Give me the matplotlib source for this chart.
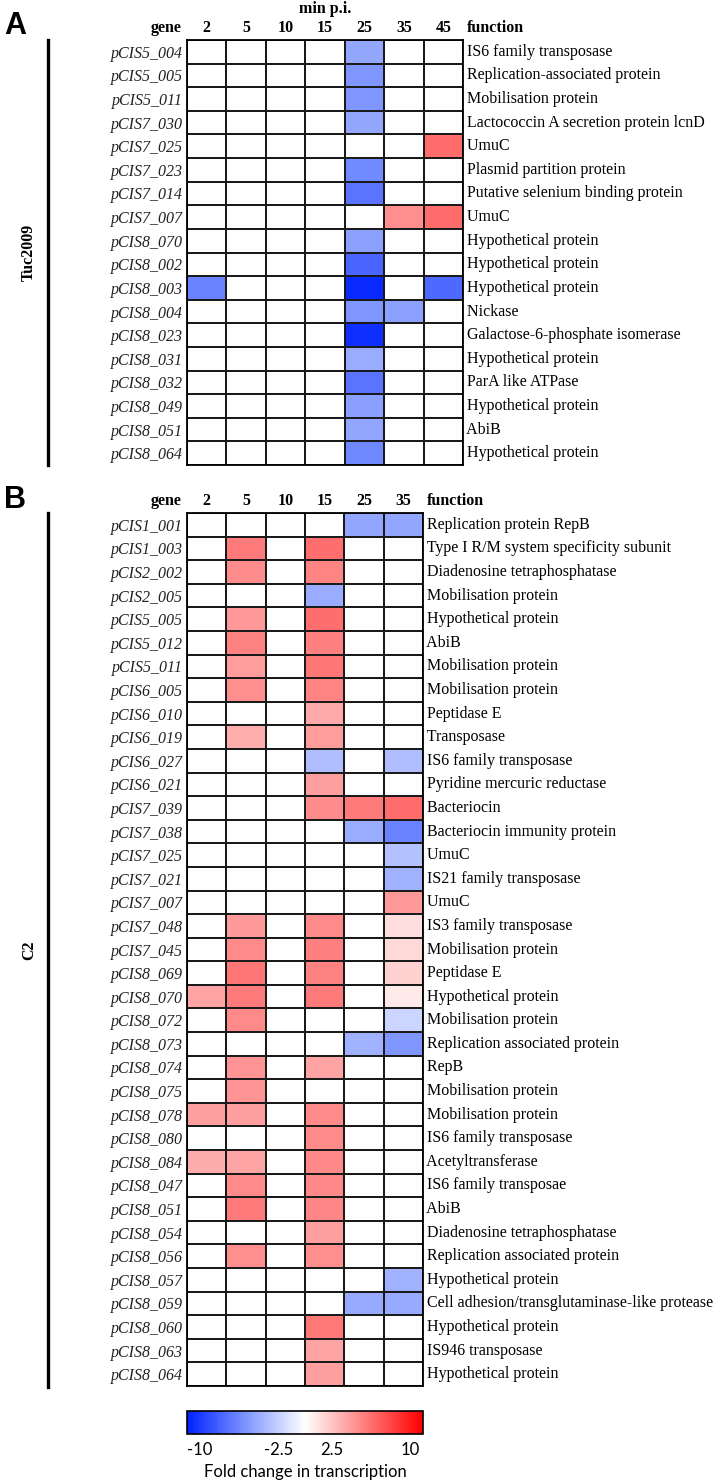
import numpy as np
import matplotlib
matplotlib.use('Agg')
import matplotlib.pyplot as plt
from matplotlib.colors import LinearSegmentedColormap, Normalize
from matplotlib.lines import Line2D
from matplotlib.transforms import blended_transform_factory

plt.rcParams['font.family'] = ['Liberation Serif', 'DejaVu Serif']

# panel A - Tuc2009
times_a = ['2', '5', '10', '15', '25', '35', '45']
genes_a = ['pCIS5_004', 'pCIS5_005', 'pCIS5_011', 'pCIS7_030', 'pCIS7_025', 'pCIS7_023',
           'pCIS7_014', 'pCIS7_007', 'pCIS8_070', 'pCIS8_002', 'pCIS8_003', 'pCIS8_004',
           'pCIS8_023', 'pCIS8_031', 'pCIS8_032', 'pCIS8_049', 'pCIS8_051', 'pCIS8_064']
funcs_a = ['IS6 family transposase', 'Replication-associated protein', 'Mobilisation protein',
           'Lactococcin A secretion protein lcnD', 'UmuC', 'Plasmid partition protein',
           'Putative selenium binding protein', 'UmuC', 'Hypothetical protein',
           'Hypothetical protein', 'Hypothetical protein', 'Nickase',
           'Galactose-6-phosphate isomerase', 'Hypothetical protein', 'ParA like ATPase',
           'Hypothetical protein', 'AbiB', 'Hypothetical protein']
fc_a = [
    [0, 0, 0, 0, -4.7, 0, 0],
    [0, 0, 0, 0, -5.6, 0, 0],
    [0, 0, 0, 0, -5.6, 0, 0],
    [0, 0, 0, 0, -4.7, 0, 0],
    [0, 0, 0, 0, 0, 0, 6.4],
    [0, 0, 0, 0, -6.2, 0, 0],
    [0, 0, 0, 0, -7.2, 0, 0],
    [0, 0, 0, 0, 0, 4.9, 6.4],
    [0, 0, 0, 0, -5.0, 0, 0],
    [0, 0, 0, 0, -7.9, 0, 0],
    [-6.5, 0, 0, 0, -10.8, 0, -7.7],
    [0, 0, 0, 0, -5.6, -5.0, 0],
    [0, 0, 0, 0, -10.5, 0, 0],
    [0, 0, 0, 0, -4.4, 0, 0],
    [0, 0, 0, 0, -7.2, 0, 0],
    [0, 0, 0, 0, -5.1, 0, 0],
    [0, 0, 0, 0, -4.8, 0, 0],
    [0, 0, 0, 0, -6.3, 0, 0],
]

# panel B - C2
times_b = ['2', '5', '10', '15', '25', '35']
genes_b = ['pCIS1_001', 'pCIS1_003', 'pCIS2_002', 'pCIS2_005', 'pCIS5_005', 'pCIS5_012',
           'pCIS5_011', 'pCIS6_005', 'pCIS6_010', 'pCIS6_019', 'pCIS6_027', 'pCIS6_021',
           'pCIS7_039', 'pCIS7_038', 'pCIS7_025', 'pCIS7_021', 'pCIS7_007', 'pCIS7_048',
           'pCIS7_045', 'pCIS8_069', 'pCIS8_070', 'pCIS8_072', 'pCIS8_073', 'pCIS8_074',
           'pCIS8_075', 'pCIS8_078', 'pCIS8_080', 'pCIS8_084', 'pCIS8_047', 'pCIS8_051',
           'pCIS8_054', 'pCIS8_056', 'pCIS8_057', 'pCIS8_059', 'pCIS8_060', 'pCIS8_063',
           'pCIS8_064']
funcs_b = ['Replication protein RepB', 'Type I R/M system specificity subunit',
           'Diadenosine tetraphosphatase', 'Mobilisation protein', 'Hypothetical protein',
           'AbiB', 'Mobilisation protein', 'Mobilisation protein', 'Peptidase E',
           'Transposase', 'IS6 family transposase', 'Pyridine mercuric reductase',
           'Bacteriocin', 'Bacteriocin immunity protein', 'UmuC', 'IS21 family transposase',
           'UmuC', 'IS3 family transposase', 'Mobilisation protein', 'Peptidase E',
           'Hypothetical protein', 'Mobilisation protein', 'Replication associated protein',
           'RepB', 'Mobilisation protein', 'Mobilisation protein', 'IS6 family transposase',
           'Acetyltransferase', 'IS6 family transposae', 'AbiB',
           'Diadenosine tetraphosphatase', 'Replication associated protein',
           'Hypothetical protein', 'Cell adhesion/transglutaminase-like protease',
           'Hypothetical protein', 'IS946 transposase', 'Hypothetical protein']
fc_b = [
    [0, 0, 0, 0, -4.8, -4.8],
    [0, 5.8, 0, 6.3, 0, 0],
    [0, 5.0, 0, 5.4, 0, 0],
    [0, 0, 0, -4.4, 0, 0],
    [0, 4.5, 0, 6.3, 0, 0],
    [0, 5.5, 0, 5.6, 0, 0],
    [0, 4.3, 0, 6.0, 0, 0],
    [0, 4.9, 0, 5.4, 0, 0],
    [0, 0, 0, 3.7, 0, 0],
    [0, 3.5, 0, 4.3, 0, 0],
    [0, 0, 0, -3.5, 0, -3.5],
    [0, 0, 0, 4.2, 0, 0],
    [0, 0, 0, 5.0, 5.8, 6.4],
    [0, 0, 0, 0, -4.4, -6.5],
    [0, 0, 0, 0, 0, -3.3],
    [0, 0, 0, 0, 0, -4.2],
    [0, 0, 0, 0, 0, 4.5],
    [0, 4.4, 0, 5.1, 0, 1.4],
    [0, 5.1, 0, 5.6, 0, 1.7],
    [0, 6.0, 0, 5.5, 0, 2.0],
    [4.0, 5.8, 0, 5.8, 0, 0.9],
    [0, 5.1, 0, 0, 0, -2.2],
    [0, 0, 0, 0, -4.2, -5.6],
    [0, 4.7, 0, 4.0, 0, 0],
    [0, 4.7, 0, 0, 0, 0],
    [4.2, 4.2, 0, 5.1, 0, 0],
    [0, 0, 0, 5.1, 0, 0],
    [3.6, 4.0, 0, 5.2, 0, 0],
    [0, 5.1, 0, 5.2, 0, 0],
    [0, 5.8, 0, 5.3, 0, 0],
    [0, 0, 0, 4.2, 0, 0],
    [0, 4.9, 0, 4.9, 0, 0],
    [0, 0, 0, 0, 0, -4.2],
    [0, 0, 0, 0, -4.5, -4.5],
    [0, 0, 0, 5.9, 0, 0],
    [0, 0, 0, 4.0, 0, 0],
    [0, 0, 0, 4.2, 0, 0],
]

cbar_ticks = [-10, -2.5, 2.5, 10]
cbar_labels = ['-10', '-2.5', '2.5', '10']

W, H = 719, 1483
fig = plt.figure(figsize=(W / 100, H / 100), dpi=100)

cmap = LinearSegmentedColormap.from_list(
    'fc', [(0, '#0022ff'), (0.25, '#7f96ff'), (0.5, '#ffffff'), (1, '#ff0000')])
norm = Normalize(vmin=-11.2, vmax=11.2)


def px_axes(x0, y0, x1, y1):
    return fig.add_axes([x0 / W, 1 - y1 / H, (x1 - x0) / W, (y1 - y0) / H])


def draw_panel(ax, genes, funcs, times, vals):
    data = np.array(vals)
    ax.pcolormesh(data, cmap=cmap, norm=norm, edgecolors='#1a1a1a', linewidth=1.2)
    ax.set_xlim(0, len(times))
    ax.set_ylim(len(genes), 0)
    ax.xaxis.tick_top()
    ax.set_xticks(np.arange(len(times)) + 0.5, times, fontweight='bold', fontsize=11.5)
    ax.set_yticks(np.arange(len(genes)) + 0.5, genes, fontstyle='italic', fontsize=11.5,
                  color='#222222')
    ax.tick_params(length=0, pad=3)
    for s in ax.spines.values():
        s.set_linewidth(1.3)
    tr = blended_transform_factory(ax.transAxes, ax.transData)
    for i, f in enumerate(funcs):
        ax.text(1.0, i + 0.5, ' ' + f, transform=tr, ha='left', va='center', fontsize=11.5)
    ax.annotate('gene', xy=(0, 1), xycoords='axes fraction', xytext=(-4, 3),
                textcoords='offset points', ha='right', va='bottom',
                fontweight='bold', fontsize=11.5)
    ax.annotate('function', xy=(1, 1), xycoords='axes fraction', xytext=(3, 3),
                textcoords='offset points', ha='left', va='bottom',
                fontweight='bold', fontsize=11.5)


ax_a = px_axes(187, 40, 463, 465)
draw_panel(ax_a, genes_a, funcs_a, times_a, fc_a)
ax_b = px_axes(187, 513, 423, 1386)
draw_panel(ax_b, genes_b, funcs_b, times_b, fc_b)

fig.text(325 / W, 1 - 9 / H, 'min p.i.', ha='center', va='center', fontweight='bold',
         fontsize=11.5)

# strain bars and labels
fig.add_artist(Line2D([48 / W, 48 / W], [1 - 40 / H, 1 - 465 / H], lw=2.4, color='black'))
fig.add_artist(Line2D([48 / W, 48 / W], [1 - 513 / H, 1 - 1387 / H], lw=2.4, color='black'))
fig.text(29 / W, 1 - 252 / H, 'Tuc2009', rotation=90, ha='center', va='center',
         fontweight='bold', fontsize=11.5)
fig.text(29 / W, 1 - 950 / H, 'C2', rotation=90, ha='center', va='center',
         fontweight='bold', fontsize=11.5)

fig.text(4 / W, 1 - 26 / H, 'A', ha='left', va='center', fontweight='bold', fontsize=22,
         family='Liberation Sans')
fig.text(4 / W, 1 - 500 / H, 'B', ha='left', va='center', fontweight='bold', fontsize=22,
         family='Liberation Sans')

# colorbar
cax = px_axes(187, 1411, 423, 1434)
sm = plt.cm.ScalarMappable(cmap=cmap, norm=norm)
cb = fig.colorbar(sm, cax=cax, orientation='horizontal')
cb.set_ticks(cbar_ticks, labels=cbar_labels)
cb.outline.set_linewidth(1.2)
cax.tick_params(length=0, pad=6)
for t in cax.get_xticklabels():
    t.set_family(['Lato', 'DejaVu Sans'])
    t.set_fontsize(12)
cb.set_label('Fold change in transcription', family=['Lato', 'DejaVu Sans'], fontsize=12,
             labelpad=4)

fig.savefig('out.png', dpi=100)
